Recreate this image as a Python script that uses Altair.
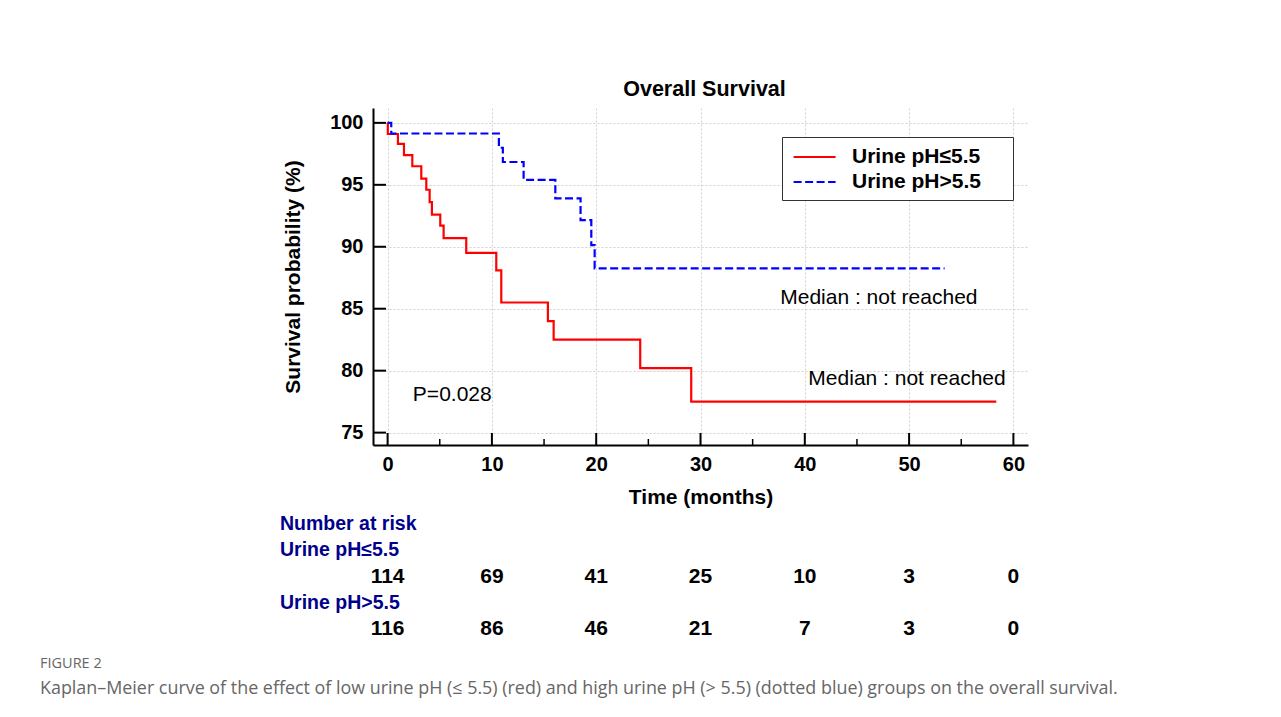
import altair as alt
import pandas as pd

# ---------------- data ----------------
groups = ["Urine pH≤5.5", "Urine pH>5.5"]
colors = ["#ff0000", "#0000ff"]

low_time = [0, 0.02, 0.99, 1.57, 2.37, 3.23, 3.71, 4.03, 4.25, 5.05, 5.37, 7.54, 10.42, 10.9, 15.37, 15.92, 24.22, 29.11, 58.36]
low_surv = [100, 99.1, 98.3, 97.4, 96.5, 95.5, 94.6, 93.6, 92.6, 91.7, 90.7, 89.5, 88.1, 85.5, 84.0, 82.5, 80.2, 77.5, 77.5]

high_time = [0, 0.35, 10.67, 11.05, 13.04, 16.08, 18.5, 19.53, 19.85, 53.4]
high_surv = [100, 99.14, 97.99, 96.84, 95.4, 93.9, 92.15, 90.14, 88.26, 88.26]

risk_times = [0, 10, 20, 30, 40, 50, 60]
risk_low = [114, 69, 41, 25, 10, 3, 0]
risk_high = [116, 86, 46, 21, 7, 3, 0]
risk_labels = ["Number at risk", "Urine pH≤5.5", "Urine pH>5.5"]
risk_label_rows = [0, 1, 3]

x_ticks = [0, 10, 20, 30, 40, 50, 60]
x_minor = [5, 15, 25, 35, 45, 55]
y_ticks = [75, 80, 85, 90, 95, 100]

annot_text = ["P=0.028", "Median : not reached", "Median : not reached"]
annot_x = [6.2, 47.1, 49.8]
annot_y = [78.0, 85.9, 79.3]

chart_title = "Overall Survival"
x_title = "Time (months)"
y_title = "Survival probability (%)"
caption_label = "FIGURE 2"
caption_text = ("Kaplan–Meier curve of the effect of low urine pH (≤ 5.5) (red) and high urine pH "
                "(> 5.5) (dotted blue) groups on the overall survival.")

# ---------------- tables ----------------
curves = pd.concat([
    pd.DataFrame({"group": groups[0], "time": low_time, "surv": low_surv}),
    pd.DataFrame({"group": groups[1], "time": high_time, "surv": high_surv}),
], ignore_index=True)

annots = pd.DataFrame({"text": annot_text, "time": annot_x, "surv": annot_y})
ytick_df = pd.DataFrame({"surv": y_ticks})
xtick_df = pd.DataFrame({"time": x_ticks})
xminor_df = pd.DataFrame({"time": x_minor})

risk_nums = pd.concat([
    pd.DataFrame({"time": risk_times, "n": [str(v) for v in risk_low], "row": 2}),
    pd.DataFrame({"time": risk_times, "n": [str(v) for v in risk_high], "row": 4}),
], ignore_index=True)
risk_lab = pd.DataFrame({"label": risk_labels, "row": risk_label_rows})

FONT = "Liberation Sans"
W, H = 655, 337

xs = alt.Scale(domain=[-1.4, 61.4], nice=False, zero=False)
ys = alt.Scale(domain=[74, 101.2], nice=False, zero=False)
x_axis = alt.Axis(values=x_ticks, title=x_title)
y_axis = alt.Axis(values=y_ticks, title=y_title)

legend = alt.Legend(
    title=" ", titleOrient="right", titlePadding=24, titleFontSize=8,
    orient="none", legendX=409, legendY=29,
    strokeColor="#333333", fillColor="white", padding=8,
    labelFont=FONT, labelFontSize=21, labelFontWeight="bold", labelColor="black",
    labelOffset=38, rowPadding=3, symbolType="M-0.8,0L3.2,0", symbolSize=441,
    symbolStrokeWidth=2.2,
)

lines = alt.Chart(curves).mark_line(interpolate="step-after", strokeWidth=2.2).encode(
    x=alt.X("time:Q", scale=xs, axis=x_axis),
    y=alt.Y("surv:Q", scale=ys, axis=y_axis),
    color=alt.Color("group:N", scale=alt.Scale(domain=groups, range=colors), legend=legend),
    strokeDash=alt.StrokeDash("group:N", scale=alt.Scale(domain=groups, range=[[1, 0], [8, 3.5]]), legend=legend),
)

texts = alt.Chart(annots).mark_text(font=FONT, fontSize=21, color="black", align="center", baseline="middle").encode(
    x=alt.X("time:Q", scale=xs, axis=x_axis),
    y=alt.Y("surv:Q", scale=ys, axis=y_axis),
    text="text:N",
)

yticks = alt.Chart(ytick_df).mark_rule(color="black", strokeWidth=2).encode(
    y=alt.Y("surv:Q", scale=ys, axis=y_axis), x=alt.value(0), x2=alt.value(13))
xticks = alt.Chart(xtick_df).mark_rule(color="black", strokeWidth=2).encode(
    x=alt.X("time:Q", scale=xs, axis=x_axis), y=alt.value(H), y2=alt.value(H - 12))
xminor = alt.Chart(xminor_df).mark_rule(color="black", strokeWidth=1.5).encode(
    x=alt.X("time:Q", scale=xs, axis=x_axis), y=alt.value(H), y2=alt.value(H - 6))

top = alt.layer(lines, texts, yticks, xticks, xminor).properties(
    width=W, height=H,
    title=alt.Title(chart_title, font=FONT, fontSize=21.5, fontWeight="bold", color="black",
                    anchor="middle", offset=8, dx=4),
)

rs = alt.Scale(domain=[-0.5, 4.5], reverse=True, nice=False, zero=False)
xs2 = alt.Scale(domain=[-1.4, 61.4], nice=False, zero=False)

risk_text_labels = alt.Chart(risk_lab).mark_text(
    font=FONT, fontSize=19.5, fontWeight="bold", color="#00008b", align="left", baseline="middle"
).encode(x=alt.value(-93), y=alt.Y("row:Q", scale=rs, axis=None), text="label:N")

risk_text_nums = alt.Chart(risk_nums).mark_text(
    font=FONT, fontSize=21, fontWeight="bold", color="black", align="center", baseline="middle"
).encode(x=alt.X("time:Q", scale=xs2, axis=None), y=alt.Y("row:Q", scale=rs, axis=None), text="n:N")

bottom = alt.layer(risk_text_labels, risk_text_nums).properties(width=W, height=131)

chart = alt.vconcat(
    top, bottom, spacing=4,
    title=alt.Title(caption_label, subtitle=caption_text, orient="bottom", anchor="start",
                    font="Open Sans", fontSize=14.5, fontWeight="normal", color="#666666",
                    subtitleFont="Open Sans", subtitleFontSize=17.9, subtitleColor="#666666",
                    subtitlePadding=8, offset=15, dx=-240),
).properties(
    padding={"left": 32, "top": 70, "right": 5, "bottom": 5}
).configure_view(stroke=None).configure_axis(
    domainColor="black", domainWidth=2, ticks=False, tickSize=0,
    labelFont=FONT, labelFontSize=20, labelFontWeight="bold", labelColor="black",
    titleFont=FONT, titleFontSize=21, titleFontWeight="bold", titleColor="black",
    grid=True, gridColor="#d0d0d0", gridDash=[2, 2], gridWidth=1,
).configure_axisY(labelPadding=10, titlePadding=26).configure_axisX(labelPadding=9, titlePadding=12)

chart.save("out.html", embed_options={"renderer": "svg", "actions": False})
